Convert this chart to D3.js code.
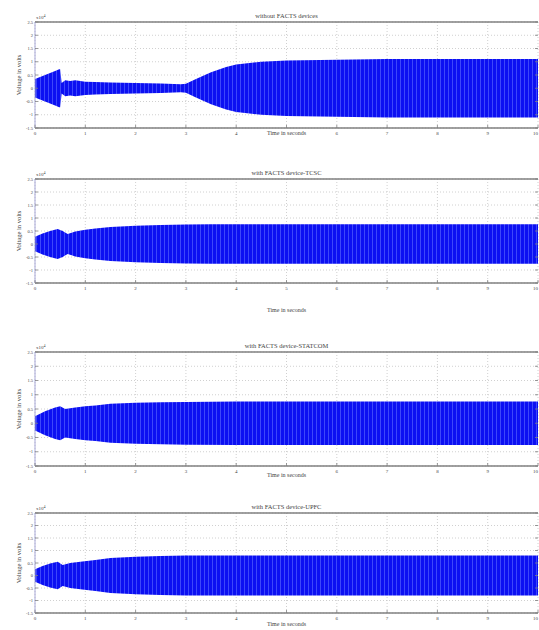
<!DOCTYPE html>
<html>
<head>
<meta charset="utf-8">
<script src="https://cdn.jsdelivr.net/npm/d3@7"></script>
<style>
  body { margin: 0; background: #fff; }
  svg { display: block; }
  text { font-family: "Liberation Serif", "DejaVu Serif", serif; fill: #444; }
</style>
</head>
<body>
<svg id="chart" width="539" height="630"></svg>
<script>
// panel titles
const titles = [
  "without FACTS devices",
  "with FACTS device-TCSC",
  "with FACTS device-STATCOM",
  "with FACTS device-UPFC"
];

// x and y ticks (y in units of 10^4 V)
const xTicks = [0, 1, 2, 3, 4, 5, 6, 7, 8, 9, 10];
const yTicks = [2.5, 2, 1.5, 1, 0.5, 0, -0.5, -1, -1.5];

// envelope (peak amplitude, x10^4 V)
const tNone = [0, 0.1, 0.2, 0.3, 0.4, 0.48, 0.5, 0.53, 0.6, 0.7, 0.8, 1.0, 1.2, 1.5, 2.0, 2.5, 2.9, 3.0, 3.2, 3.5, 3.8, 4.0, 4.5, 5.0, 6, 7, 8, 9, 10];
const aNone = [0.35, 0.42, 0.5, 0.58, 0.65, 0.72, 0.72, 0.2, 0.3, 0.27, 0.3, 0.25, 0.24, 0.22, 0.2, 0.18, 0.15, 0.17, 0.35, 0.6, 0.8, 0.9, 1.0, 1.05, 1.08, 1.1, 1.1, 1.1, 1.1];

const tTcsc = [0, 0.15, 0.3, 0.45, 0.55, 0.65, 0.8, 1.0, 1.2, 1.5, 2.0, 2.5, 3.0, 3.5, 4, 5, 6, 7, 8, 9, 10];
const aTcsc = [0.28, 0.4, 0.5, 0.58, 0.5, 0.38, 0.48, 0.55, 0.6, 0.65, 0.7, 0.73, 0.75, 0.76, 0.76, 0.76, 0.76, 0.76, 0.76, 0.76, 0.76];

const tStat = [0, 0.2, 0.4, 0.5, 0.6, 0.8, 1.0, 1.2, 1.5, 2, 2.5, 3, 4, 5, 6, 7, 8, 9, 10];
const aStat = [0.25, 0.42, 0.55, 0.6, 0.5, 0.55, 0.6, 0.62, 0.68, 0.72, 0.74, 0.75, 0.76, 0.76, 0.76, 0.76, 0.76, 0.76, 0.76];

const tUpfc = [0, 0.15, 0.3, 0.45, 0.55, 0.7, 0.9, 1.2, 1.5, 2, 2.5, 3, 4, 5, 6, 7, 8, 9, 10];
const aUpfc = [0.25, 0.38, 0.48, 0.55, 0.42, 0.5, 0.55, 0.62, 0.7, 0.75, 0.78, 0.8, 0.8, 0.8, 0.8, 0.8, 0.8, 0.8, 0.8];

const series = [[tNone, aNone], [tTcsc, aTcsc], [tStat, aStat], [tUpfc, aUpfc]];

// panel frames: [top, bottom] in px, and where the x label sits
const frames = [[22, 128], [179, 283], [352, 466], [513, 613]];
const labelY = [135, 312, 477, 626];

const svg = d3.select("#chart");
const x = d3.scaleLinear().domain([0, 10]).range([35, 538]);

// striped blue fill to mimic the dense waveform
const pat = svg.append("defs").append("pattern")
  .attr("id", "wave")
  .attr("patternUnits", "userSpaceOnUse")
  .attr("width", 4).attr("height", 4);
pat.append("rect").attr("width", 4).attr("height", 4).attr("fill", "#0c10f2");
pat.append("rect").attr("width", 1).attr("height", 4).attr("fill", "#5d6cff").attr("opacity", 0.6);

frames.forEach(([top, bottom], i) => {
  const y = d3.scaleLinear().domain([-1.5, 2.5]).range([bottom, top]);
  const g = svg.append("g");
  const [ts, as] = series[i];
  const env = ts.map((t, k) => ({ t, a: as[k] }));
  // x label shares the tick-label row in tight panels, so it hides "5"
  const tight = labelY[i] - bottom < 15;

  // grid
  g.selectAll(".gy").data(yTicks).join("line")
    .attr("x1", x(0)).attr("x2", x(10))
    .attr("y1", (d) => y(d)).attr("y2", (d) => y(d))
    .attr("stroke", "#c4c4c4").attr("stroke-width", 0.8).attr("stroke-dasharray", "1,2");
  g.selectAll(".gx").data(xTicks).join("line")
    .attr("x1", (d) => x(d)).attr("x2", (d) => x(d))
    .attr("y1", top).attr("y2", bottom)
    .attr("stroke", "#c4c4c4").attr("stroke-width", 0.8).attr("stroke-dasharray", "1,2");

  // waveform envelope
  g.append("path")
    .datum(env)
    .attr("fill", "url(#wave)")
    .attr("d", d3.area()
      .x((d) => x(d.t))
      .y0((d) => y(-d.a))
      .y1((d) => y(d.a)));

  // box
  g.append("line").attr("x1", x(0)).attr("x2", x(10)).attr("y1", top).attr("y2", top)
    .attr("stroke", "#808080").attr("stroke-width", 1.5);
  g.append("line").attr("x1", x(0)).attr("x2", x(10)).attr("y1", bottom).attr("y2", bottom)
    .attr("stroke", "#808080").attr("stroke-width", 1.5);
  g.append("line").attr("x1", x(0)).attr("x2", x(0)).attr("y1", top).attr("y2", bottom)
    .attr("stroke", "#a8a8d8").attr("stroke-width", 1);

  // tick marks
  g.selectAll(".tx").data(xTicks).join("line")
    .attr("x1", (d) => x(d)).attr("x2", (d) => x(d))
    .attr("y1", bottom).attr("y2", bottom - 3)
    .attr("stroke", "#808080").attr("stroke-width", 0.8);
  g.selectAll(".ty").data(yTicks).join("line")
    .attr("x1", x(0)).attr("x2", x(0) + 3)
    .attr("y1", (d) => y(d)).attr("y2", (d) => y(d))
    .attr("stroke", "#808080").attr("stroke-width", 0.8);
  g.selectAll(".ty2").data(yTicks).join("line")
    .attr("x1", x(10)).attr("x2", x(10) - 3)
    .attr("y1", (d) => y(d)).attr("y2", (d) => y(d))
    .attr("stroke", "#808080").attr("stroke-width", 0.8);

  // tick labels
  g.selectAll(".lx").data(xTicks.filter((d) => !(tight && d === 5))).join("text")
    .attr("x", (d) => x(d)).attr("y", bottom + 7)
    .attr("text-anchor", (d) => (d === 10 ? "end" : "middle")).attr("font-size", 5)
    .text((d) => d);
  g.selectAll(".ly").data(yTicks).join("text")
    .attr("x", x(0) - 2).attr("y", (d) => y(d)).attr("dy", "0.35em")
    .attr("text-anchor", "end").attr("font-size", 4.5)
    .text((d) => d);

  // exponent
  const ex = g.append("text").attr("x", x(0) + 1).attr("y", top - 3).attr("font-size", 5);
  ex.append("tspan").text("x10");
  ex.append("tspan").attr("dy", -2.5).attr("font-size", 4).text("4");

  // title and axis labels
  g.append("text").attr("x", x(5)).attr("y", top - 4)
    .attr("text-anchor", "middle").attr("font-size", 6.5).attr("fill", "#333")
    .text(titles[i]);
  g.append("text").attr("x", x(5)).attr("y", labelY[i])
    .attr("text-anchor", "middle").attr("font-size", 6)
    .text("Time in seconds");
  g.append("text")
    .attr("transform", `translate(21,${(top + bottom) / 2}) rotate(-90)`)
    .attr("text-anchor", "middle").attr("font-size", 6.5)
    .text("Voltage in volts");
});
</script>
</body>
</html>
